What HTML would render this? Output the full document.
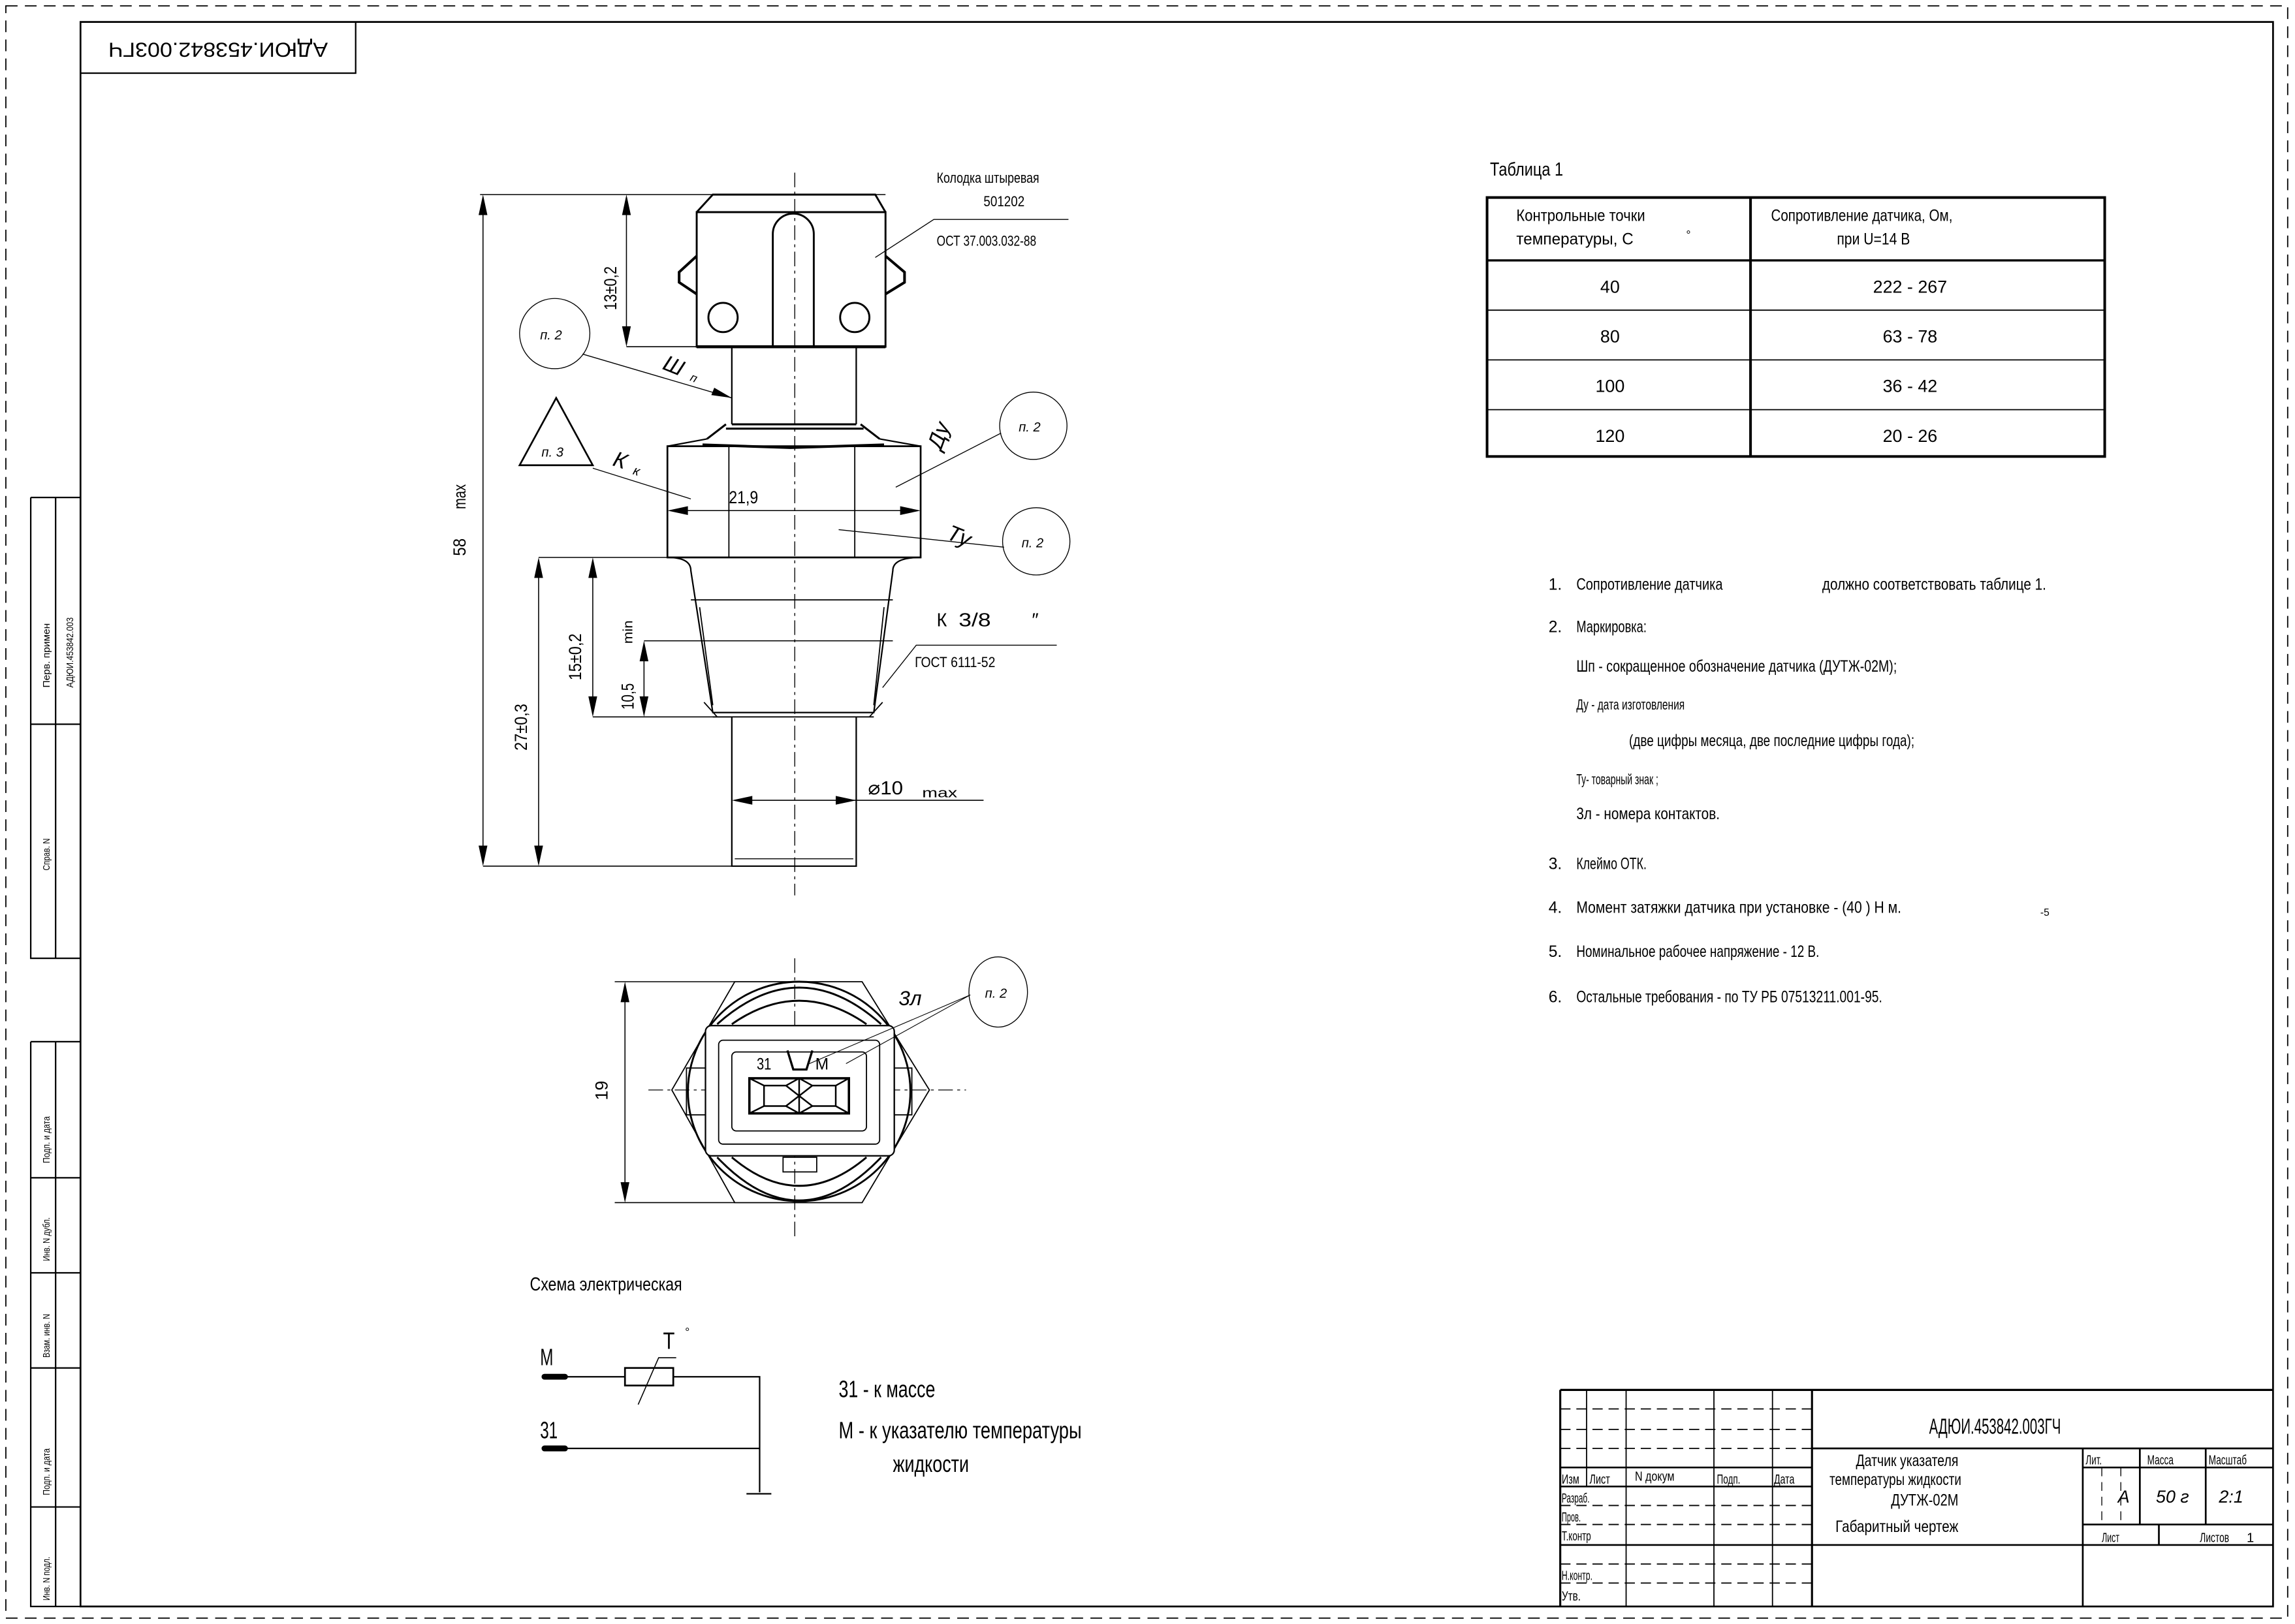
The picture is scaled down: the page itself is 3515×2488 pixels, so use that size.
<!DOCTYPE html>
<html><head><meta charset="utf-8"><style>
html,body{margin:0;padding:0;background:#fff}
svg{display:block}
text{font-family:"Liberation Sans","DejaVu Sans",sans-serif;fill:#000}
</style></head><body>
<svg width="3515" height="2488" viewBox="0 0 1568 1110" preserveAspectRatio="none" xmlns="http://www.w3.org/2000/svg">
<rect x="0" y="0" width="1568" height="1110" fill="#fff"/>
<g fill="none" stroke="#000">
<rect x="4" y="4" width="1559" height="1102" stroke-width="0.8" stroke-dasharray="8,5"/>
<path d="M55 15 H1553 V1098 H55 Z" stroke-width="1.2"/>
<rect x="55" y="15" width="188" height="35" stroke-width="1"/>
<path d="M21 340 H55 M21 340 V655 H55 M38 340 V655 M21 495 H55" stroke-width="1"/>
<path d="M21 712 H55 M21 712 V1098 H55 M38 712 V1098 M21 805 H55 M21 870 H55 M21 935 H55 M21 1030 H55" stroke-width="1"/>
</g>
<text transform="translate(149,33) rotate(180)" font-size="14" text-anchor="middle" dominant-baseline="middle" textLength="150" lengthAdjust="spacingAndGlyphs">АДЮИ.453842.003ГЧ</text>
<g font-size="6.5">
<text transform="translate(34,470) rotate(-90)" textLength="44" lengthAdjust="spacingAndGlyphs">Перв. примен</text>
<text transform="translate(50,470) rotate(-90)" textLength="48" lengthAdjust="spacingAndGlyphs">АДЮИ.453842.003</text>
<text transform="translate(34,595) rotate(-90)" textLength="22" lengthAdjust="spacingAndGlyphs">Справ. N</text>
<text transform="translate(34,795) rotate(-90)" textLength="32" lengthAdjust="spacingAndGlyphs">Подп. и дата</text>
<text transform="translate(34,862) rotate(-90)" textLength="30" lengthAdjust="spacingAndGlyphs">Инв. N дубл.</text>
<text transform="translate(34,928) rotate(-90)" textLength="30" lengthAdjust="spacingAndGlyphs">Взам. инв. N</text>
<text transform="translate(34,1022) rotate(-90)" textLength="32" lengthAdjust="spacingAndGlyphs">Подп. и дата</text>
<text transform="translate(34,1094) rotate(-90)" textLength="30" lengthAdjust="spacingAndGlyphs">Инв. N подл.</text>
</g>

<path d="M543 118 V612" stroke="#000" stroke-width="0.6" stroke-dasharray="10,3,2,3" fill="none"/>
<g fill="none" stroke="#000" stroke-width="1.3">
<path d="M476 145 L487 133 H598 L605 145"/>
<path d="M476 145 H605 V237 H476 Z"/>
<path d="M528 237 V160 A14 14 0 0 1 556 160 V237"/>
<circle cx="494" cy="217" r="10"/>
<circle cx="584" cy="217" r="10"/>
<path d="M476 175 L464 186 V193 L476 201" stroke-width="1.8"/>
<path d="M605 175 L618 186 V193 L605 201" stroke-width="1.8"/>
<path d="M476 237 H605" stroke-width="2"/>
<path d="M500 237 V290 M585 237 V290" stroke-width="1"/>
<path d="M500 290 H585 M496 293 H590 M483 300 L496 290 M601 300 L588 290" stroke-width="1.4"/>
<path d="M480 304 L540 306 L604 304" stroke-width="1.8"/>
<path d="M456 305 H629 V381 H456 Z" stroke-width="1.2"/>
<path d="M483 300 L456 305 M601 300 L629 305" stroke-width="1"/>
<path d="M498 305 V381 M584 305 V381" stroke-width="0.8"/>
<path d="M456 381 Q472 381 472 390 L487 487 H597 L610 390 Q610 381 629 381" stroke-width="1"/>
<path d="M472 410 H610 M478 415 L487 482 M604 415 L597 482 M481 480 L490 490 M603 480 L594 490" stroke-width="0.8"/>
<path d="M487 490 H597" stroke-width="0.8"/>
<path d="M500 490 V592 H585 V490" stroke-width="1"/>
<path d="M502 587 H583" stroke-width="0.6"/>
</g>
<g fill="none" stroke="#000" stroke-width="0.7">
<path d="M328 133 H605 M428 237 H476 M368 381 H456 M405 490 H500 M440 438 H610 M330 592 H500"/>
<path d="M330 135 V590 M428 135 V235 M368 383 V590 M405 383 V488 M440 440 V488"/>
<path d="M458 349 H627 M502 547 H583 M583 547 H672"/>
</g>
<g fill="#000">
<path d="M330 133 l-3 14 h6 Z M330 592 l-3 -14 h6 Z"/>
<path d="M428 133 l-3 14 h6 Z M428 237 l-3 -14 h6 Z"/>
<path d="M368 381 l-3 14 h6 Z M368 592 l-3 -14 h6 Z"/>
<path d="M405 381 l-3 14 h6 Z M405 490 l-3 -14 h6 Z"/>
<path d="M440 438 l-3 14 h6 Z M440 490 l-3 -14 h6 Z"/>
<path d="M456 349 l14 -3 v6 Z M629 349 l-14 -3 v6 Z"/>
<path d="M500 547 l14 -3 v6 Z M585 547 l-14 -3 v6 Z"/>
</g>
<g font-size="12">
<text transform="translate(318,380) rotate(-90)" textLength="12" lengthAdjust="spacingAndGlyphs">58</text>
<text transform="translate(318,348) rotate(-90)" textLength="17" lengthAdjust="spacingAndGlyphs">max</text>
<text transform="translate(421,212) rotate(-90)" textLength="30" lengthAdjust="spacingAndGlyphs">13±0,2</text>
<text transform="translate(360,513) rotate(-90)" textLength="32" lengthAdjust="spacingAndGlyphs">27±0,3</text>
<text transform="translate(397,465) rotate(-90)" textLength="32" lengthAdjust="spacingAndGlyphs">15±0,2</text>
<text transform="translate(433,485) rotate(-90)" textLength="18" lengthAdjust="spacingAndGlyphs">10,5</text>
<text transform="translate(432,440) rotate(-90)" font-size="9" textLength="16" lengthAdjust="spacingAndGlyphs">min</text>
<text x="498" y="344" textLength="20" lengthAdjust="spacingAndGlyphs">21,9</text>
<text x="593" y="543" font-size="13" textLength="24" lengthAdjust="spacingAndGlyphs">⌀10</text>
<text x="630" y="545" font-size="9" textLength="24" lengthAdjust="spacingAndGlyphs">max</text>
</g>
<g font-size="10">
<text x="640" y="125" textLength="70" lengthAdjust="spacingAndGlyphs">Колодка штыревая</text>
<text x="672" y="141" textLength="28" lengthAdjust="spacingAndGlyphs">501202</text>
<text x="640" y="168" textLength="68" lengthAdjust="spacingAndGlyphs">ОСТ 37.003.032-88</text>
<text x="625" y="456" textLength="55" lengthAdjust="spacingAndGlyphs">ГОСТ 6111-52</text>
<text x="640" y="428" font-size="13" textLength="7" lengthAdjust="spacingAndGlyphs">К</text>
<text x="655" y="428" font-size="13" textLength="22" lengthAdjust="spacingAndGlyphs">3/8</text>
<text x="705" y="428" font-size="13">″</text>
</g>
<g fill="none" stroke="#000" stroke-width="0.6">
<path d="M598 176 L638 150 H730"/>
<path d="M603 470 L626 441 H722"/>
<ellipse cx="379" cy="228" rx="24" ry="24"/>
<path d="M398 242 L500 272"/>
<path d="M355 318 L380 272 L405 318 Z" stroke-width="1.2"/>
<path d="M405 320 L472 341"/>
<ellipse cx="706" cy="291" rx="23" ry="23"/>
<path d="M684 296 L612 333"/>
<ellipse cx="708" cy="370" rx="23" ry="23"/>
<path d="M686 374 L573 362"/>
</g>
<path d="M500 272 l-12 -7 l-2 5 Z" fill="#000"/>
<g font-size="9" font-style="italic">
<text x="369" y="232">п. 2</text>
<text x="370" y="312">п. 3</text>
<text x="696" y="295">п. 2</text>
<text x="698" y="374">п. 2</text>
<text x="673" y="682">п. 2</text>
</g>
<g font-size="15" font-style="italic">
<text transform="translate(452,252) rotate(22)">Ш</text>
<text transform="translate(471,260) rotate(22)" font-size="8">п</text>
<text transform="translate(418,318) rotate(18)">К</text>
<text transform="translate(432,324) rotate(18)" font-size="9">к</text>
<text transform="translate(643,308) rotate(-70)">Ду</text>
<text transform="translate(646,368) rotate(22)">Ту</text>
</g>

<g fill="none" stroke="#000">
<path d="M543 655 V845" stroke-width="0.6" stroke-dasharray="10,3,2,3"/>
<path d="M443 745 H660" stroke-width="0.6" stroke-dasharray="10,3,2,3"/>
<path d="M502 671 H589 L635 745 L589 822 H502 L459 745 Z" stroke-width="0.8"/>
<ellipse cx="546" cy="746" rx="76" ry="75" stroke-width="1.3"/>
<path d="M490 700 Q546 650 602 700 M500 700 Q546 668 592 700" stroke-width="1.3"/>
<path d="M490 791 Q546 850 602 791 M500 791 Q546 830 592 791" stroke-width="1.3"/>
<rect x="482" y="701" width="129" height="89" rx="4" fill="#fff" stroke-width="1"/>
<rect x="491" y="711" width="110" height="71" rx="3" stroke-width="0.8"/>
<rect x="500" y="719" width="92" height="54" rx="3" stroke-width="0.8"/>
<rect x="469" y="730" width="13" height="32" stroke-width="0.8"/>
<rect x="611" y="730" width="12" height="32" stroke-width="0.8"/>
<rect x="535" y="791" width="23" height="10" stroke-width="0.8"/>
<path d="M538 718 L542 731 H551 L555 718" stroke-width="1.5"/>
<rect x="512" y="737" width="68" height="24" stroke-width="1.6"/>
<path d="M546 737 L537 742 H522 L512 737 M546 737 L555 742 H571 L580 737 M546 761 L537 756 H522 L512 761 M546 761 L555 756 H571 L580 761 M546 737 V761 M522 742 V756 M537 742 L546 749 L537 756 M571 742 V756 M555 742 L546 749 L555 756" stroke-width="1.1"/>
<path d="M420 671 H502 M420 822 H502" stroke-width="0.7"/>
<path d="M427 673 V820" stroke-width="0.7"/>
<path d="M663 680 L578 727 M663 680 L553 727" stroke-width="0.5"/>
<ellipse cx="682" cy="678" rx="20" ry="24" stroke-width="0.6"/>
</g>
<path d="M427 671 l-3 14 h6 Z M427 822 l-3 -14 h6 Z" fill="#000"/>
<text transform="translate(415,752) rotate(-90)" font-size="12">19</text>
<text x="517" y="731" font-size="11" textLength="10" lengthAdjust="spacingAndGlyphs">31</text>
<text x="557" y="731" font-size="11">М</text>
<text x="614" y="687" font-size="14" font-style="italic">3л</text>

<text x="362" y="882" font-size="13" textLength="104" lengthAdjust="spacingAndGlyphs">Схема электрическая</text>
<g fill="none" stroke="#000" stroke-width="1">
<path d="M375 941 H427 M460 941 H519 V1020 M375 990 H519 M510 1021 H527"/>
<rect x="427" y="935" width="33" height="12" stroke-width="1.2"/>
<path d="M436 960 L450 928 H462" stroke-width="0.7"/>
</g>
<path d="M372 941 H386 M372 990 H386" stroke="#000" stroke-width="4" stroke-linecap="round"/>
<text x="453" y="922" font-size="16" textLength="8" lengthAdjust="spacingAndGlyphs">Т</text>
<text x="468" y="913" font-size="8">°</text>
<text x="369" y="933" font-size="16" textLength="9" lengthAdjust="spacingAndGlyphs">М</text>
<text x="369" y="983" font-size="16" textLength="12" lengthAdjust="spacingAndGlyphs">31</text>
<g font-size="16">
<text x="573" y="955" textLength="66" lengthAdjust="spacingAndGlyphs">31 - к массе</text>
<text x="573" y="983" textLength="166" lengthAdjust="spacingAndGlyphs">М - к указателю температуры</text>
<text x="610" y="1006" textLength="52" lengthAdjust="spacingAndGlyphs">жидкости</text>
</g>

<text x="1018" y="120" font-size="13" textLength="50" lengthAdjust="spacingAndGlyphs">Таблица 1</text>
<g fill="none" stroke="#000">
<rect x="1016" y="135" width="422" height="177" stroke-width="1.8"/>
<path d="M1196 135 V312" stroke-width="1.8"/>
<path d="M1016 178 H1438" stroke-width="1.5"/>
<path d="M1016 212 H1438 M1016 246 H1438 M1016 280 H1438" stroke-width="0.8"/>
</g>
<g font-size="11">
<text x="1036" y="151" textLength="88" lengthAdjust="spacingAndGlyphs">Контрольные точки</text>
<text x="1036" y="167" textLength="80" lengthAdjust="spacingAndGlyphs">температуры,    С</text>
<text x="1152" y="163" font-size="8">°</text>
<text x="1210" y="151" textLength="124" lengthAdjust="spacingAndGlyphs">Сопротивление датчика, Ом,</text>
<text x="1255" y="167" textLength="50" lengthAdjust="spacingAndGlyphs">при U=14 В</text>
<g font-size="12" text-anchor="middle">
<text x="1100" y="200">40</text><text x="1305" y="200">222 - 267</text>
<text x="1100" y="234">80</text><text x="1305" y="234">63 - 78</text>
<text x="1100" y="268">100</text><text x="1305" y="268">36 - 42</text>
<text x="1100" y="302">120</text><text x="1305" y="302">20 - 26</text>
</g>
</g>

<g font-size="11">
<text x="1058" y="403">1.</text><text x="1077" y="403" textLength="100" lengthAdjust="spacingAndGlyphs">Сопротивление датчика</text>
<text x="1245" y="403" textLength="153" lengthAdjust="spacingAndGlyphs">должно соответствовать таблице 1.</text>
<text x="1058" y="432">2.</text><text x="1077" y="432" textLength="48" lengthAdjust="spacingAndGlyphs">Маркировка:</text>
<text x="1077" y="459" textLength="219" lengthAdjust="spacingAndGlyphs">Шп - сокращенное обозначение датчика (ДУТЖ-02М);</text>
<text x="1077" y="485" font-size="10" textLength="74" lengthAdjust="spacingAndGlyphs">Ду - дата изготовления</text>
<text x="1113" y="510" textLength="195" lengthAdjust="spacingAndGlyphs">(две цифры месяца, две последние цифры года);</text>
<text x="1077" y="536" font-size="10" textLength="56" lengthAdjust="spacingAndGlyphs">Ту- товарный знак ;</text>
<text x="1077" y="560" textLength="98" lengthAdjust="spacingAndGlyphs">3л - номера контактов.</text>
<text x="1058" y="594">3.</text><text x="1077" y="594" textLength="48" lengthAdjust="spacingAndGlyphs">Клеймо ОТК.</text>
<text x="1058" y="624">4.</text><text x="1077" y="624" textLength="222" lengthAdjust="spacingAndGlyphs">Момент затяжки датчика при установке - (40   ) Н м.</text>
<text x="1394" y="626" font-size="7">-5</text>
<text x="1058" y="654">5.</text><text x="1077" y="654" textLength="166" lengthAdjust="spacingAndGlyphs">Номинальное рабочее напряжение - 12 В.</text>
<text x="1058" y="685">6.</text><text x="1077" y="685" textLength="209" lengthAdjust="spacingAndGlyphs">Остальные требования - по ТУ РБ 07513211.001-95.</text>
</g>

<g fill="none" stroke="#000">
<path d="M1066 950 H1553 M1066 950 V1098 M1238 950 V1098" stroke-width="1.4"/>
<path d="M1084 950 V1016 M1111 950 V1098 M1171 950 V1098 M1211 950 V1098" stroke-width="0.8"/>
<path d="M1066 1003 H1238 M1066 1016 H1238 M1066 1056 H1238 M1238 990 H1553 M1238 1056 H1553 M1423 990 V1098 M1423 1003 H1553 M1423 1042 H1553 M1462 990 V1042 M1507 990 V1042 M1475 1042 V1056" stroke-width="1.2"/>
<path d="M1066 963 H1238 M1066 977 H1238 M1066 990 H1238 M1066 1029 H1238 M1066 1042 H1238 M1066 1069 H1238 M1066 1082 H1238" stroke-width="0.8" stroke-dasharray="7,4"/>
<path d="M1436 1003 V1042 M1449 1003 V1042" stroke-width="0.6" stroke-dasharray="6,4"/>
</g>
<text x="1318" y="980" font-size="15" textLength="90" lengthAdjust="spacingAndGlyphs">АДЮИ.453842.003ГЧ</text>
<g font-size="9">
<text x="1067" y="1014" textLength="12" lengthAdjust="spacingAndGlyphs">Изм</text>
<text x="1086" y="1014" textLength="14" lengthAdjust="spacingAndGlyphs">Лист</text>
<text x="1117" y="1012" textLength="27" lengthAdjust="spacingAndGlyphs">N докум</text>
<text x="1173" y="1014" textLength="16" lengthAdjust="spacingAndGlyphs">Подп.</text>
<text x="1212" y="1014" textLength="14" lengthAdjust="spacingAndGlyphs">Дата</text>
<text x="1067" y="1027" textLength="19" lengthAdjust="spacingAndGlyphs">Разраб.</text>
<text x="1067" y="1040" textLength="13" lengthAdjust="spacingAndGlyphs">Пров.</text>
<text x="1067" y="1053" textLength="20" lengthAdjust="spacingAndGlyphs">Т.контр</text>
<text x="1067" y="1080" textLength="21" lengthAdjust="spacingAndGlyphs">Н.контр.</text>
<text x="1067" y="1094" textLength="13" lengthAdjust="spacingAndGlyphs">Утв.</text>
<text x="1425" y="1001" textLength="11" lengthAdjust="spacingAndGlyphs">Лит.</text>
<text x="1467" y="1001" textLength="18" lengthAdjust="spacingAndGlyphs">Масса</text>
<text x="1509" y="1001" textLength="26" lengthAdjust="spacingAndGlyphs">Масштаб</text>
<text x="1436" y="1054" textLength="12" lengthAdjust="spacingAndGlyphs">Лист</text>
<text x="1503" y="1054" textLength="20" lengthAdjust="spacingAndGlyphs">Листов</text>
<text x="1535" y="1054">1</text>
</g>
<g font-size="11">
<text x="1268" y="1002" textLength="70" lengthAdjust="spacingAndGlyphs">Датчик указателя</text>
<text x="1250" y="1015" textLength="90" lengthAdjust="spacingAndGlyphs">температуры жидкости</text>
<text x="1292" y="1029" textLength="46" lengthAdjust="spacingAndGlyphs">ДУТЖ-02М</text>
<text x="1254" y="1047" textLength="84" lengthAdjust="spacingAndGlyphs">Габаритный чертеж</text>
</g>
<g font-size="12" font-style="italic">
<text x="1447" y="1027">А</text>
<text x="1473" y="1027">50 г</text>
<text x="1516" y="1027">2:1</text>
</g>
</svg>
</body></html>
